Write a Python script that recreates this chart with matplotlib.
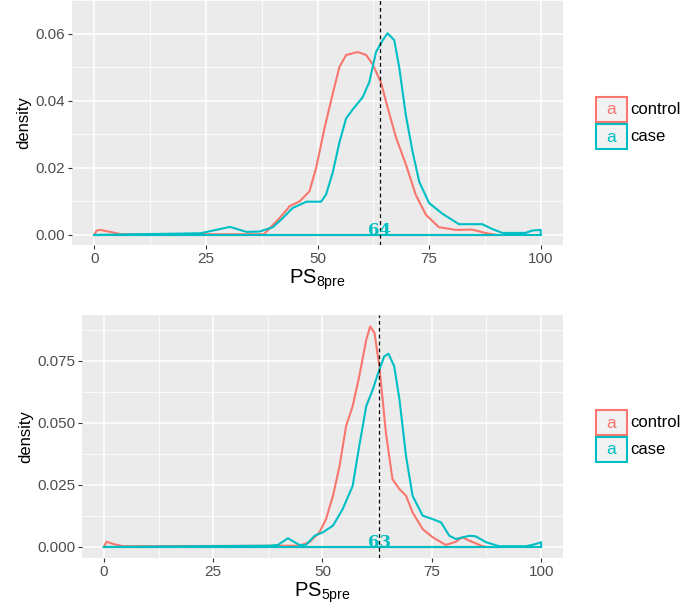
import matplotlib
matplotlib.use("Agg")
import matplotlib.pyplot as plt
from matplotlib.patches import Rectangle

# --- data (density outlines) ---
ctrl8_x = [0, 0.5, 1.3, 3.6, 6.1, 38, 41.5, 43.8, 46.0, 48.2, 49.7, 51.6, 53.4, 54.9, 56.4, 59.0,
           60.9, 62.3, 64.2, 65.7, 67.6, 69.8, 72.0, 74.3, 77.2, 81.0, 84.6, 87.6, 90.0]
ctrl8_y = [0, 0.0013, 0.0015, 0.0009, 0.0002, 0.0002, 0.005, 0.0086, 0.0100, 0.013, 0.020, 0.032,
           0.042, 0.050, 0.0536, 0.0545, 0.0536, 0.051, 0.0455, 0.038, 0.029, 0.021, 0.012, 0.006,
           0.0023, 0.0015, 0.0016, 0.0006, 0]
case8_x = [0, 23.7, 26.6, 30.4, 34.1, 37.0, 40.0, 42.2, 44.4, 47.5, 50.8, 51.9, 53.4, 54.9, 56.4,
           57.9, 60.1, 61.6, 63.1, 64.6, 65.7, 67.2, 68.3, 69.8, 71.3, 72.8, 75.0, 78.0, 81.7,
           86.9, 89.1, 91.4, 96.6, 98.1, 100, 100]
case8_y = [0, 0.0005, 0.0013, 0.0024, 0.0009, 0.0010, 0.0023, 0.005, 0.008, 0.0099, 0.0099, 0.012,
           0.0185, 0.0275, 0.0347, 0.0374, 0.041, 0.0455, 0.0545, 0.058, 0.0601, 0.058, 0.050,
           0.0356, 0.0248, 0.0158, 0.0095, 0.0063, 0.0032, 0.0032, 0.0018, 0.0006, 0.0006, 0.0013,
           0.0015, 0]

ctrl5_x = [0, 0.6, 2.1, 4.4, 44.7, 47.0, 49.3, 50.8, 52.4, 53.9, 55.4, 56.9, 58.4, 60.0, 60.9,
           61.9, 63.0, 64.5, 66.0, 67.6, 69.1, 70.6, 72.9, 75.2, 78.2, 80.5, 82.0, 83.6, 86.6, 87.5]
ctrl5_y = [0, 0.0021, 0.0012, 0.0003, 0.0005, 0.0019, 0.0059, 0.0112, 0.0206, 0.0326, 0.0487,
           0.0567, 0.0687, 0.0834, 0.0888, 0.0861, 0.0727, 0.046, 0.0273, 0.0233, 0.0206, 0.0139,
           0.0072, 0.0039, 0.0008, 0.0021, 0.0039, 0.0025, 0.0003, 0]
case5_x = [0, 37.9, 39.8, 42.1, 44.7, 46.2, 48.2, 50.1, 52.4, 54.6, 56.9, 58.4, 60.0, 61.5, 63.0,
           64.1, 65.1, 66.4, 67.6, 69.1, 70.6, 72.9, 75.2, 77.1, 79.0, 80.5, 83.6, 85.0, 87.4,
           90.4, 96.6, 98.8, 100, 100]
case5_y = [0, 0.0005, 0.0008, 0.0035, 0.0008, 0.0008, 0.0045, 0.0059, 0.0086, 0.0152, 0.0246,
           0.0406, 0.0567, 0.0634, 0.0714, 0.0767, 0.0778, 0.0727, 0.0594, 0.0366, 0.0206, 0.0126,
           0.0112, 0.0099, 0.0045, 0.0032, 0.0045, 0.0043, 0.0019, 0.0003, 0.0003, 0.0012, 0.0019, 0]

cutoffs = [64, 63]
xlabels = [r"PS$_{\mathregular{8pre}}$", r"PS$_{\mathregular{5pre}}$"]
yticks = [[0.00, 0.02, 0.04, 0.06], [0.000, 0.025, 0.050, 0.075]]
ytick_labels = [["0.00", "0.02", "0.04", "0.06"], ["0.000", "0.025", "0.050", "0.075"]]
ylims = [(-0.003, 0.0635), (-0.00445, 0.0934)]
legend_labels = ["control", "case"]

RED = "#F8766D"
TEAL = "#00BFC4"

plt.rcParams["font.family"] = ["Liberation Sans", "DejaVu Sans"]
plt.rcParams["mathtext.fontset"] = "custom"
plt.rcParams["mathtext.rm"] = "Liberation Sans"

W, H = 685, 610
fig = plt.figure(figsize=(W / 100, H / 100), dpi=100)


def fx(px):
    return px / W


def fy(py):
    return 1 - py / H


# axes boxes in pixels: left, top, right, bottom
boxes = [(72, 0, 563, 245), (82, 315, 563, 558)]
series = [((ctrl8_x, ctrl8_y), (case8_x, case8_y)), ((ctrl5_x, ctrl5_y), (case5_x, case5_y))]
legend_tops = [97, 410]

for i in range(2):
    l, t, r, b = boxes[i]
    ax = fig.add_axes([fx(l), fy(b), fx(r) - fx(l), fy(t) - fy(b)])
    ax.set_facecolor("#EBEBEB")
    for s in ax.spines.values():
        s.set_visible(False)
    ax.set_xlim(-5, 105)
    ax.set_ylim(*ylims[i])
    ax.set_xticks([0, 25, 50, 75, 100])
    ax.set_xticks([12.5, 37.5, 62.5, 87.5], minor=True)
    ax.set_yticks(yticks[i])
    ax.set_yticklabels(ytick_labels[i])
    step = yticks[i][1] - yticks[i][0]
    ax.set_yticks([v + step / 2 for v in yticks[i]], minor=True)
    ax.grid(True, which="major", color="white", lw=1.1)
    ax.grid(True, which="minor", color="white", lw=0.55)
    ax.set_axisbelow(True)
    ax.tick_params(which="major", length=3, width=0.8, color="#333333",
                   labelcolor="#4D4D4D", labelsize=11, pad=2)
    ax.tick_params(which="minor", length=0)

    for (xs, ys), col in zip(series[i], [RED, TEAL]):
        ax.plot(xs, ys, color=col, lw=1.5, solid_joinstyle="round", zorder=3)
        ax.plot([xs[0], xs[-1]], [0, 0], color=col, lw=1.5, zorder=3)

    ax.axvline(cutoffs[i], color="black", lw=0.9, ls=(0, (3, 2.5)), zorder=4)
    ax.text(cutoffs[i], 0, str(cutoffs[i]), color=TEAL, ha="center", va="baseline",
            fontsize=12, fontweight="bold", family="DejaVu Serif", zorder=5)

    ax.set_ylabel("density", fontsize=12, labelpad=3)
    ax.set_xlabel(xlabels[i], fontsize=14.5, labelpad=1)

    # legend drawn by hand: boxed keys with a coloured "a"
    lt = legend_tops[i]
    for k, (lab, col) in enumerate(zip(legend_labels, [RED, TEAL])):
        top = lt + k * 27
        rect = Rectangle((fx(596), fy(top + 25)), fx(627) - fx(596), fy(top) - fy(top + 25),
                         transform=fig.transFigure, facecolor="#F2F2F2", edgecolor=col, lw=1.5)
        fig.add_artist(rect)
        fig.text(fx(611.5), fy(top + 13), "a", color=col, ha="center", va="center", fontsize=12.5)
        fig.text(fx(630), fy(top + 12.5), lab, color="black", ha="left", va="center", fontsize=12)

fig.savefig("out.png", dpi=100)
